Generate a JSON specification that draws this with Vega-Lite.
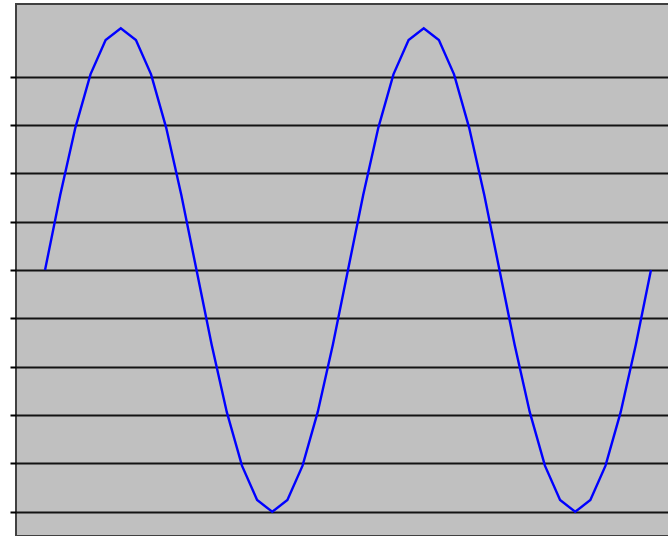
{
  "$schema": "https://vega.github.io/schema/vega-lite/v6.json",
  "autosize": {"type": "none"},
  "padding": {"left": 16, "top": 4, "right": 0, "bottom": 0},
  "width": 664,
  "height": 532,
  "background": "white",
  "config": {
    "view": {"fill": "#C0C0C0", "stroke": "#404040", "strokeWidth": 2}
  },
  "data": {
    "values": [
      {"deg": 0, "v": 0},
      {"deg": 18, "v": 1.545},
      {"deg": 36, "v": 2.939},
      {"deg": 54, "v": 4.045},
      {"deg": 72, "v": 4.755},
      {"deg": 90, "v": 5},
      {"deg": 108, "v": 4.755},
      {"deg": 126, "v": 4.045},
      {"deg": 144, "v": 2.939},
      {"deg": 162, "v": 1.545},
      {"deg": 180, "v": 0},
      {"deg": 198, "v": -1.545},
      {"deg": 216, "v": -2.939},
      {"deg": 234, "v": -4.045},
      {"deg": 252, "v": -4.755},
      {"deg": 270, "v": -5},
      {"deg": 288, "v": -4.755},
      {"deg": 306, "v": -4.045},
      {"deg": 324, "v": -2.939},
      {"deg": 342, "v": -1.545},
      {"deg": 360, "v": 0},
      {"deg": 378, "v": 1.545},
      {"deg": 396, "v": 2.939},
      {"deg": 414, "v": 4.045},
      {"deg": 432, "v": 4.755},
      {"deg": 450, "v": 5},
      {"deg": 468, "v": 4.755},
      {"deg": 486, "v": 4.045},
      {"deg": 504, "v": 2.939},
      {"deg": 522, "v": 1.545},
      {"deg": 540, "v": 0},
      {"deg": 558, "v": -1.545},
      {"deg": 576, "v": -2.939},
      {"deg": 594, "v": -4.045},
      {"deg": 612, "v": -4.755},
      {"deg": 630, "v": -5},
      {"deg": 648, "v": -4.755},
      {"deg": 666, "v": -4.045},
      {"deg": 684, "v": -2.939},
      {"deg": 702, "v": -1.545},
      {"deg": 720, "v": 0}
    ]
  },
  "mark": {"type": "line", "color": "#0000FF", "strokeWidth": 2.4, "interpolate": "linear"},
  "encoding": {
    "x": {
      "field": "deg",
      "type": "quantitative",
      "scale": {"domain": [-34.5, 754.5], "nice": false, "zero": false},
      "axis": null
    },
    "y": {
      "field": "v",
      "type": "quantitative",
      "scale": {"domain": [-5.5, 5.5], "nice": false},
      "axis": {
        "values": [-5, -4, -3, -2, -1, 0, 1, 2, 3, 4],
        "labels": false,
        "title": null,
        "domain": false,
        "grid": true,
        "gridColor": "#000000",
        "gridWidth": 2,
        "gridOpacity": 0.9,
        "ticks": true,
        "tickSize": 6,
        "tickColor": "#000000",
        "tickWidth": 2
      }
    }
  }
}
